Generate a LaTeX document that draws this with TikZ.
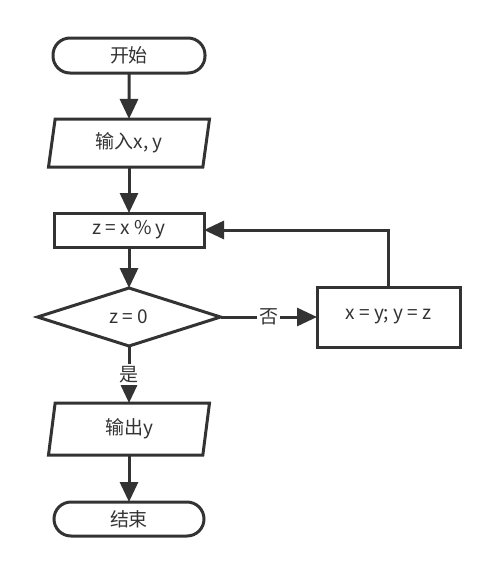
\documentclass[tikz,border=0pt]{standalone}
\usepackage{fontspec}
\setmainfont{Noto Sans CJK SC}
\usetikzlibrary{shapes.geometric}
\usetikzlibrary{arrows.meta}
\usepackage{xcolor}
\definecolor{ink}{HTML}{333333}

\begin{document}
\begin{tikzpicture}[x=1pt,y=-1pt,line width=3pt,color=ink,
  >={Triangle[length=20pt,width=18pt]},
  every node/.style={font=\fontsize{19}{22}\selectfont,outer sep=0pt,inner sep=0pt},
  term/.style={draw,rectangle,rounded corners=17pt,minimum width=152pt,minimum height=35pt},
  io/.style={draw,trapezium,trapezium left angle=72,trapezium right angle=108,
    trapezium stretches body,minimum width=161pt,minimum height=48pt},
  proc/.style={draw,rectangle,minimum width=150pt,minimum height=34pt},
  cond/.style={draw,diamond,minimum width=183pt,minimum height=58pt},
  tag/.style={fill=white,inner sep=2pt}]
  \useasboundingbox (0,0) rectangle (499,574);

  \node[term] (start) at (129,55.5) {开始};
  \node[io]   (in)    at (129,143)  {输入x, y};
  \node[proc] (calc)  at (129,230)  {z = x \% y};
  \node[cond] (test)  at (129,317)  {z = 0};
  \node[proc,minimum width=143pt,minimum height=60pt] (swap) at (388.5,317) {x = y; y = z};
  \node[io,minimum height=52pt] (out) at (129,429) {输出y};
  \node[term,minimum width=150pt,minimum height=34pt] (stop) at (129,519) {结束};

  \draw[->] (start) -- (in);
  \draw[->] (in) -- (calc);
  \draw[->] (calc) -- (test);
  \draw[->] (test) -- node[tag] {否} (swap);
  \draw[->] (test) -- node[tag] {是} (out);
  \draw[->] (out) -- (stop);
  \draw[->] (swap.north) |- (calc.east);

\end{tikzpicture}
\end{document}
